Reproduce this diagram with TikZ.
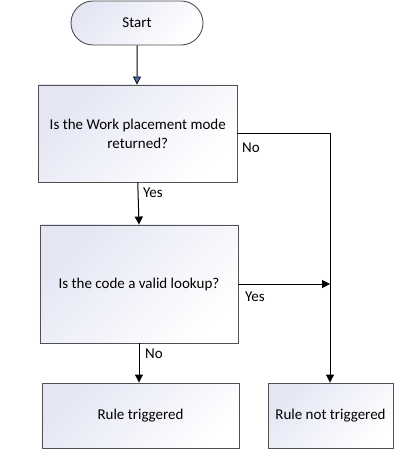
\documentclass[tikz,border=0pt]{standalone}
\usepackage{fontspec}
\setmainfont{Carlito}
\usetikzlibrary{arrows.meta,shapes.misc}
\definecolor{fillA}{HTML}{E4E6F4}
\definecolor{edgeC}{HTML}{505050}
\definecolor{headB}{HTML}{4F6FB0}
\tikzset{
  box/.style={draw=edgeC, line width=0.9bp, top color=fillA, bottom color=white, shading angle=45,
    align=center, inner sep=2bp, font=\fontsize{15bp}{19bp}\selectfont},
  conn/.style={draw=black, line width=1bp, -{Triangle[length=8bp,width=8bp]}},
  lbl/.style={font=\fontsize{15bp}{19bp}\selectfont, anchor=west, inner sep=0pt},
}
\begin{document}
\begin{tikzpicture}[x=1bp,y=-1bp]
\useasboundingbox (0,0) rectangle (417,453);
\node[box, rounded rectangle, minimum width=136bp, minimum height=44bp] (start) at (137,23) {Start};
\node[box, rectangle, minimum width=198.5bp, minimum height=97bp] (q1) at (137.75,133.5) {Is the Work placement mode\\returned?};
\node[box, rectangle, minimum width=198bp, minimum height=118bp] (q2) at (139,284) {Is the code a valid lookup?};
\node[box, rectangle, minimum width=197bp, minimum height=65bp] (rt) at (140.5,415.5) {Rule triggered};
\node[box, rectangle, minimum width=125bp, minimum height=65bp] (rnt) at (330.5,415.5) {Rule not triggered};
\coordinate (c1) at (330,133.5);
\coordinate (j) at (330,284);
\draw[line width=1bp, -{Triangle[length=8bp,width=8bp,fill=headB,line width=0.8bp]}] (start) -- (start.south |- q1.north);
\draw[conn] (q1.south) -- (q2.north);
\draw[conn] (q1.east) -- (c1) -- (rnt.north -| c1);
\draw[conn] (q2.east) -- (j);
\draw[conn] (q2.south) -- (q2.south |- rt.north);
\node[lbl] (l1) at (242,148) {No};
\node[lbl] (l2) at (143,193) {Yes};
\node[lbl] (l3) at (245,297) {Yes};
\node[lbl] (l4) at (145,354) {No};
\end{tikzpicture}
\end{document}
